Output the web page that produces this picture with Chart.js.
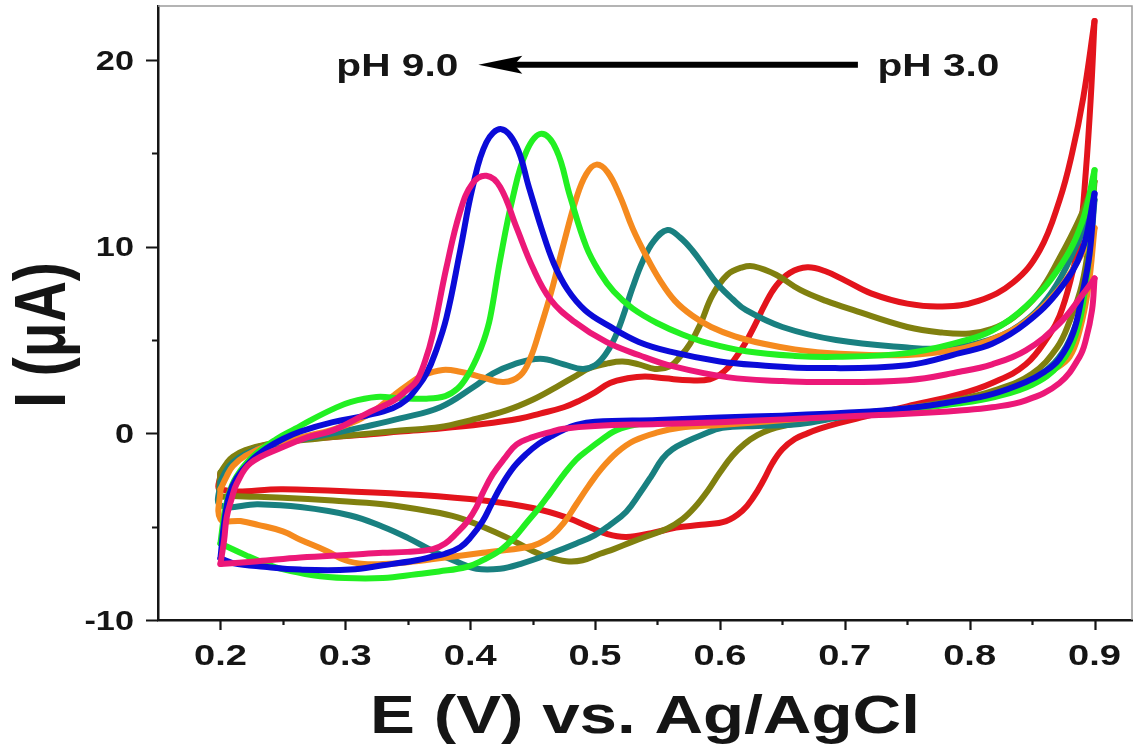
<!DOCTYPE html>
<html>
<head>
<meta charset="utf-8">
<title>CV at different pH</title>
<script src="https://cdn.jsdelivr.net/npm/chart.js@4.4.1/dist/chart.umd.min.js"></script>
<style>
  html, body { margin: 0; padding: 0; background: #fff; }
  canvas { display: block; }
</style>
</head>
<body>
<canvas id="cvChart" width="1140" height="751"></canvas>
<script>
// Cyclic voltammograms, [E (V), I (uA)] pairs.
// Forward scan 0.2 -> 0.9 V, reverse scan 0.9 -> 0.2 V.
const ph3Fwd = [[0.2,-2.2],[0.205,-1.7],[0.21,-1.35],[0.22,-0.95],[0.237,-0.6],[0.26,-0.35],[0.29,-0.2],[0.32,-0.05],[0.344,0.1],[0.376,0.26],[0.41,0.5],[0.44,0.8],[0.456,1.06],[0.475,1.4],[0.488,1.77],[0.5,2.2],[0.512,2.7],[0.526,2.95],[0.54,3.05],[0.556,2.95],[0.576,2.84],[0.592,2.9],[0.603,3.3],[0.612,4.0],[0.62,4.8],[0.628,5.8],[0.636,6.9],[0.645,7.9],[0.656,8.6],[0.67,8.9],[0.684,8.7],[0.7,8.2],[0.721,7.5],[0.75,6.95],[0.778,6.8],[0.807,7.1],[0.835,8.1],[0.856,9.8],[0.872,12.5],[0.882,15.0],[0.891,18.0],[0.9,22.1]];
const ph3Rev = [[0.9,22.1],[0.897,18.0],[0.893,14.0],[0.888,10.5],[0.88,8.0],[0.872,6.3],[0.864,5.3],[0.845,3.7],[0.818,2.7],[0.792,2.1],[0.75,1.45],[0.716,0.9],[0.695,0.55],[0.68,0.25],[0.67,0.0],[0.66,-0.3],[0.65,-0.85],[0.642,-1.6],[0.635,-2.5],[0.627,-3.4],[0.618,-4.15],[0.605,-4.7],[0.585,-4.9],[0.565,-5.05],[0.545,-5.35],[0.525,-5.55],[0.51,-5.4],[0.495,-5.0],[0.477,-4.5],[0.45,-4.0],[0.411,-3.6],[0.36,-3.3],[0.3,-3.1],[0.25,-3.0],[0.2,-3.0],[0.2,-2.2]];

const ph4Fwd = [[0.2,-2.1],[0.205,-1.6],[0.21,-1.25],[0.22,-0.9],[0.237,-0.6],[0.26,-0.4],[0.29,-0.2],[0.32,0.0],[0.344,0.15],[0.376,0.34],[0.4,0.7],[0.429,1.23],[0.45,1.8],[0.469,2.48],[0.485,3.1],[0.496,3.5],[0.51,3.75],[0.522,3.85],[0.535,3.7],[0.548,3.45],[0.56,3.6],[0.568,4.1],[0.576,4.8],[0.584,5.8],[0.594,7.4],[0.606,8.5],[0.618,8.9],[0.627,8.95],[0.645,8.5],[0.664,7.7],[0.685,7.1],[0.707,6.6],[0.75,5.7],[0.778,5.4],[0.8,5.35],[0.818,5.6],[0.835,6.2],[0.855,7.5],[0.872,9.4],[0.888,11.5],[0.9,13.5]];
const ph4Rev = [[0.9,13.5],[0.896,10.5],[0.89,8.0],[0.88,6.0],[0.87,4.6],[0.85,3.2],[0.82,2.3],[0.79,1.8],[0.75,1.35],[0.7,0.95],[0.67,0.65],[0.653,0.43],[0.64,0.2],[0.63,-0.1],[0.62,-0.55],[0.61,-1.2],[0.6,-2.1],[0.59,-3.1],[0.58,-3.95],[0.57,-4.6],[0.558,-5.1],[0.544,-5.45],[0.53,-5.8],[0.515,-6.2],[0.504,-6.45],[0.49,-6.8],[0.477,-6.85],[0.463,-6.65],[0.45,-6.3],[0.43,-5.6],[0.41,-5.0],[0.39,-4.5],[0.37,-4.2],[0.33,-3.8],[0.29,-3.6],[0.25,-3.45],[0.21,-3.35],[0.2,-3.3],[0.2,-2.1]];

const ph5Fwd = [[0.2,-2.6],[0.205,-1.95],[0.21,-1.55],[0.22,-1.1],[0.237,-0.7],[0.264,-0.35],[0.29,0.0],[0.315,0.35],[0.344,0.8],[0.376,1.4],[0.403,2.5],[0.418,3.2],[0.435,3.7],[0.456,4.0],[0.475,3.7],[0.49,3.45],[0.5,3.65],[0.508,4.2],[0.515,5.0],[0.522,6.2],[0.53,7.8],[0.538,9.2],[0.547,10.3],[0.558,10.9],[0.568,10.5],[0.578,9.8],[0.588,8.9],[0.598,8.0],[0.61,7.2],[0.621,6.6],[0.65,5.7],[0.693,5.0],[0.75,4.6],[0.778,4.55],[0.81,4.9],[0.84,5.8],[0.865,7.5],[0.885,10.0],[0.9,12.5]];
const ph5Rev = [[0.9,12.5],[0.896,9.5],[0.89,7.0],[0.88,5.0],[0.868,3.8],[0.85,2.9],[0.82,2.1],[0.79,1.65],[0.75,1.3],[0.7,0.9],[0.664,0.5],[0.63,0.4],[0.602,0.3],[0.585,-0.1],[0.573,-0.45],[0.562,-0.85],[0.554,-1.35],[0.545,-2.3],[0.536,-3.2],[0.525,-4.2],[0.512,-4.9],[0.5,-5.45],[0.485,-5.9],[0.464,-6.45],[0.44,-7.0],[0.424,-7.25],[0.405,-7.25],[0.39,-6.9],[0.37,-6.3],[0.35,-5.6],[0.33,-5.0],[0.304,-4.4],[0.264,-3.95],[0.23,-3.8],[0.2,-3.85],[0.2,-2.6]];

const ph6Fwd = [[0.2,-3.0],[0.205,-2.3],[0.21,-1.75],[0.22,-1.2],[0.24,-0.6],[0.265,-0.2],[0.29,0.2],[0.31,0.7],[0.325,1.3],[0.338,2.0],[0.35,2.6],[0.362,3.1],[0.378,3.4],[0.392,3.3],[0.41,3.0],[0.427,2.75],[0.44,3.1],[0.448,4.0],[0.456,5.6],[0.465,7.6],[0.475,10.2],[0.485,12.6],[0.493,13.9],[0.501,14.4],[0.51,14.0],[0.52,12.7],[0.53,11.0],[0.541,9.5],[0.552,8.2],[0.564,7.1],[0.578,6.3],[0.593,5.7],[0.612,5.2],[0.635,4.8],[0.66,4.5],[0.693,4.28],[0.75,4.2],[0.79,4.5],[0.82,5.1],[0.845,6.0],[0.87,7.6],[0.888,9.4],[0.9,11.0]];
const ph6Rev = [[0.9,11.0],[0.895,7.8],[0.888,5.5],[0.88,4.1],[0.867,3.4],[0.85,2.7],[0.82,2.0],[0.79,1.7],[0.75,1.35],[0.7,1.0],[0.65,0.7],[0.6,0.45],[0.568,0.3],[0.55,0.05],[0.531,-0.4],[0.518,-1.0],[0.505,-1.9],[0.495,-2.8],[0.485,-3.8],[0.475,-4.8],[0.465,-5.5],[0.455,-5.9],[0.445,-6.1],[0.41,-6.4],[0.38,-6.65],[0.35,-6.9],[0.33,-7.0],[0.315,-7.0],[0.3,-6.8],[0.285,-6.3],[0.264,-5.7],[0.25,-5.25],[0.23,-4.9],[0.216,-4.7],[0.2,-4.6],[0.2,-3.0]];

const ph7Fwd = [[0.2,-5.9],[0.203,-4.4],[0.207,-3.2],[0.213,-2.3],[0.225,-1.3],[0.245,-0.3],[0.26,0.25],[0.272,0.7],[0.29,1.3],[0.304,1.68],[0.325,1.95],[0.344,1.88],[0.365,1.86],[0.38,2.0],[0.39,2.4],[0.398,3.1],[0.405,4.0],[0.411,5.0],[0.416,6.2],[0.424,9.3],[0.434,12.6],[0.445,15.1],[0.457,16.05],[0.469,15.2],[0.48,12.7],[0.493,10.0],[0.504,8.6],[0.515,7.6],[0.53,6.7],[0.55,5.9],[0.57,5.3],[0.59,4.85],[0.621,4.4],[0.66,4.15],[0.693,4.1],[0.75,4.3],[0.792,4.9],[0.818,5.5],[0.845,6.8],[0.872,8.9],[0.89,11.3],[0.9,14.1]];
const ph7Rev = [[0.9,14.1],[0.897,10.5],[0.892,7.5],[0.885,5.3],[0.872,3.7],[0.85,2.6],[0.82,1.95],[0.79,1.6],[0.75,1.3],[0.7,1.05],[0.65,0.85],[0.6,0.75],[0.56,0.65],[0.544,0.6],[0.528,0.4],[0.515,0.1],[0.505,-0.35],[0.495,-0.85],[0.485,-1.4],[0.475,-2.2],[0.464,-3.2],[0.455,-4.0],[0.445,-4.8],[0.435,-5.6],[0.424,-6.27],[0.41,-6.8],[0.397,-7.16],[0.375,-7.4],[0.357,-7.55],[0.33,-7.75],[0.3,-7.75],[0.274,-7.6],[0.248,-7.25],[0.235,-6.95],[0.221,-6.55],[0.2,-5.9]];

const ph8Fwd = [[0.2,-6.7],[0.203,-4.8],[0.207,-3.3],[0.213,-2.4],[0.224,-1.5],[0.237,-0.8],[0.25,-0.3],[0.264,0.1],[0.29,0.6],[0.317,0.96],[0.338,1.35],[0.349,1.8],[0.358,2.5],[0.365,3.2],[0.372,4.3],[0.381,6.2],[0.392,9.8],[0.402,13.2],[0.413,15.6],[0.425,16.3],[0.437,15.4],[0.447,13.2],[0.457,11.0],[0.467,9.1],[0.478,7.7],[0.492,6.6],[0.51,5.8],[0.535,4.9],[0.562,4.35],[0.6,3.85],[0.632,3.65],[0.678,3.5],[0.75,3.65],[0.792,4.3],[0.818,4.8],[0.845,5.9],[0.872,7.7],[0.89,9.8],[0.9,12.85]];
const ph8Rev = [[0.9,12.85],[0.896,9.6],[0.89,7.4],[0.883,5.4],[0.872,4.0],[0.86,3.3],[0.845,2.75],[0.818,2.1],[0.792,1.75],[0.75,1.35],[0.7,1.1],[0.65,0.95],[0.6,0.85],[0.55,0.72],[0.5,0.62],[0.485,0.45],[0.475,0.2],[0.465,-0.15],[0.455,-0.55],[0.445,-1.1],[0.435,-1.8],[0.425,-2.8],[0.417,-3.8],[0.41,-4.7],[0.4,-5.6],[0.392,-6.1],[0.38,-6.45],[0.37,-6.6],[0.357,-6.8],[0.33,-7.07],[0.304,-7.3],[0.264,-7.3],[0.235,-7.15],[0.21,-6.95],[0.2,-6.7]];

const ph9Fwd = [[0.2,-7.0],[0.203,-5.7],[0.205,-4.5],[0.209,-3.5],[0.213,-2.7],[0.224,-1.6],[0.25,-0.73],[0.27,-0.2],[0.29,0.16],[0.317,1.06],[0.339,1.77],[0.349,2.3],[0.357,2.8],[0.364,3.9],[0.37,5.3],[0.381,8.9],[0.392,11.9],[0.402,13.4],[0.413,13.8],[0.424,13.2],[0.437,11.05],[0.45,8.9],[0.464,7.2],[0.483,6.0],[0.509,4.9],[0.535,4.2],[0.562,3.6],[0.607,3.0],[0.65,2.8],[0.678,2.75],[0.75,2.85],[0.792,3.3],[0.818,3.7],[0.845,4.45],[0.872,5.9],[0.89,7.4],[0.9,8.3]];
const ph9Rev = [[0.9,8.3],[0.898,6.6],[0.893,5.0],[0.888,4.1],[0.872,2.7],[0.845,1.77],[0.818,1.4],[0.792,1.23],[0.75,1.05],[0.7,0.9],[0.65,0.75],[0.6,0.6],[0.55,0.5],[0.5,0.4],[0.475,0.25],[0.464,0.07],[0.45,-0.2],[0.437,-0.6],[0.428,-1.3],[0.418,-2.2],[0.41,-3.2],[0.405,-3.95],[0.398,-4.7],[0.389,-5.36],[0.38,-5.9],[0.37,-6.2],[0.35,-6.35],[0.33,-6.4],[0.304,-6.5],[0.264,-6.65],[0.23,-6.85],[0.2,-7.0]];

const phLabels = ['pH 3.0', 'pH 4.0', 'pH 5.0', 'pH 6.0', 'pH 7.0', 'pH 8.0', 'pH 9.0'];
const forwardScans = [ph3Fwd, ph4Fwd, ph5Fwd, ph6Fwd, ph7Fwd, ph8Fwd, ph9Fwd];
const reverseScans = [ph3Rev, ph4Rev, ph5Rev, ph6Rev, ph7Rev, ph8Rev, ph9Rev];

const xMajorTicks = [0.2, 0.3, 0.4, 0.5, 0.6, 0.7, 0.8, 0.9];
const xMinorTicks = [0.25, 0.35, 0.45, 0.55, 0.65, 0.75, 0.85];
const yMajorTicks = [-10, 0, 10, 20];
const yMinorTicks = [-5, 5, 15];

const lineColors = ['#e3141c', '#80800f', '#198080', '#f58a1e', '#22f022', '#0b0bd8', '#ec1878'];

const FONT = '"Liberation Sans", Arial, sans-serif';
const TEXT_STRETCH = 1.27;
const INK = '#151515';

function toPoints(pairs) {
    return pairs.map(([e, i]) => ({ x: e, y: i }));
}

// one dataset per scan direction, same colour; red drawn first, pink last
const datasets = [];
phLabels.forEach((label, k) => {
    [forwardScans[k], reverseScans[k]].forEach((scan, dir) => {
        datasets.push({
            label: label + (dir === 0 ? ' forward' : ' reverse'),
            data: toPoints(scan),
            borderColor: lineColors[k],
            order: phLabels.length - k
        });
    });
});

function stretchedText(ctx, text, x, y, size, align) {
    ctx.save();
    ctx.translate(x, y);
    ctx.scale(TEXT_STRETCH, 1);
    ctx.font = `bold ${size}px ${FONT}`;
    ctx.fillStyle = INK;
    ctx.textAlign = align;
    ctx.textBaseline = 'alphabetic';
    ctx.fillText(text, 0, 0);
    ctx.restore();
}

const axisDecor = {
    id: 'axisDecor',
    afterDraw(chart) {
        const { ctx, chartArea: area, scales: { x, y } } = chart;
        ctx.save();

        // thin grey frame on top and right
        ctx.strokeStyle = '#9c9c9c';
        ctx.lineWidth = 1.5;
        ctx.beginPath();
        ctx.moveTo(area.left, area.top);
        ctx.lineTo(area.right, area.top);
        ctx.lineTo(area.right, area.bottom);
        ctx.stroke();

        // tick marks, outward
        ctx.strokeStyle = INK;
        ctx.lineWidth = 2.2;
        ctx.beginPath();
        xMajorTicks.concat(xMinorTicks).forEach(v => {
            const px = Math.round(x.getPixelForValue(v)) + 0.5;
            const len = xMajorTicks.includes(v) ? 10 : 5;
            ctx.moveTo(px, area.bottom);
            ctx.lineTo(px, area.bottom + len);
        });
        yMajorTicks.concat(yMinorTicks).forEach(v => {
            const py = Math.round(y.getPixelForValue(v)) + 0.5;
            const len = yMajorTicks.includes(v) ? 12 : 6;
            ctx.moveTo(area.left, py);
            ctx.lineTo(area.left - len, py);
        });
        ctx.stroke();

        // tick labels
        xMajorTicks.forEach(v => {
            stretchedText(ctx, v.toFixed(1), x.getPixelForValue(v), area.bottom + 45, 30, 'center');
        });
        yMajorTicks.forEach(v => {
            stretchedText(ctx, String(v), area.left - 24, y.getPixelForValue(v) + 9.5, 27, 'right');
        });

        // axis titles
        stretchedText(ctx, 'E (V) vs. Ag/AgCl', (area.left + area.right) / 2, 733, 53, 'center');
        ctx.save();
        ctx.translate(65, 335);
        ctx.scale(TEXT_STRETCH, 1);
        ctx.rotate(-Math.PI / 2);
        ctx.font = `bold 57px ${FONT}`;
        ctx.fillStyle = INK;
        ctx.textAlign = 'center';
        ctx.textBaseline = 'alphabetic';
        ctx.fillText('I (\u03BCA)', 0, 0);
        ctx.restore();

        // pH shift annotation: arrow from pH 3.0 towards pH 9.0
        const ay = y.getPixelForValue(19.75);
        const tail = x.getPixelForValue(0.7105);
        const head = x.getPixelForValue(0.4065);
        ctx.strokeStyle = '#000';
        ctx.fillStyle = '#000';
        ctx.lineWidth = 6;
        ctx.beginPath();
        ctx.moveTo(tail, ay);
        ctx.lineTo(head + 30, ay);
        ctx.stroke();
        ctx.beginPath();
        ctx.moveTo(head, ay);
        ctx.lineTo(head + 44, ay - 9);
        ctx.lineTo(head + 36, ay);
        ctx.lineTo(head + 44, ay + 9);
        ctx.closePath();
        ctx.fill();

        const ly = y.getPixelForValue(19.15);
        stretchedText(ctx, phLabels[6], x.getPixelForValue(0.3905), ly, 32, 'right');
        stretchedText(ctx, phLabels[0], x.getPixelForValue(0.7262), ly, 32, 'left');

        ctx.restore();
    }
};

new Chart(document.getElementById('cvChart'), {
    type: 'line',
    data: { datasets },
    options: {
        responsive: false,
        animation: false,
        events: [],
        layout: { padding: { top: 6, right: 8, left: 0, bottom: 0 } },
        plugins: {
            legend: { display: false },
            tooltip: { enabled: false }
        },
        elements: {
            point: { radius: 0 },
            line: {
                borderWidth: 6,
                tension: 0.4,
                borderCapStyle: 'round',
                borderJoinStyle: 'round',
                fill: false
            }
        },
        scales: {
            x: {
                type: 'linear',
                min: 0.15,
                max: 0.93,
                grid: { display: false },
                ticks: { display: false },
                border: { color: INK, width: 2.5 },
                afterFit: s => { s.height = 131; }
            },
            y: {
                type: 'linear',
                min: -10,
                max: 22.9,
                grid: { display: false },
                ticks: { display: false },
                border: { color: INK, width: 2.5 },
                afterFit: s => { s.width = 158; }
            }
        }
    },
    plugins: [axisDecor]
});
</script>
</body>
</html>
